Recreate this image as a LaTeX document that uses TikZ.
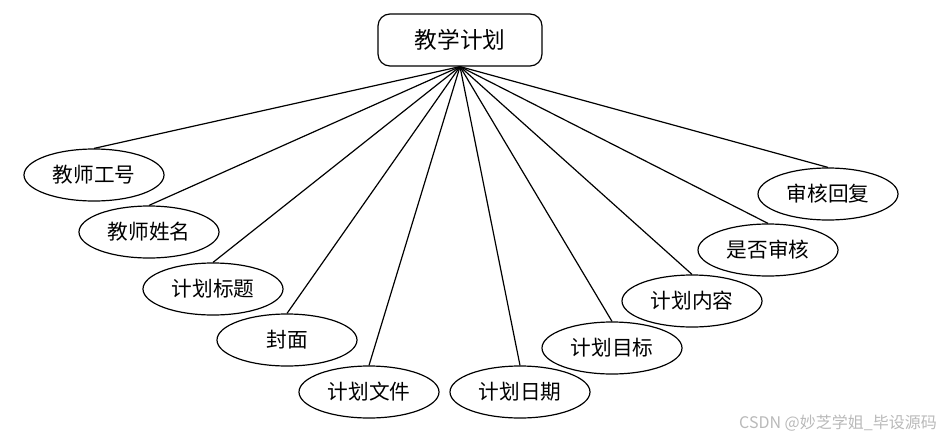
\documentclass[tikz,border=0pt]{standalone}
\usepackage{fontspec}
\newfontfamily\cjk{Noto Sans CJK SC}
\usetikzlibrary{shapes.geometric}
\tikzset{
    attr/.style={draw, ellipse, line width=.9pt, minimum width=105pt, minimum height=39pt, inner sep=0pt, font=\cjk\fontsize{15.5}{17}\selectfont},
    entity/.style={draw, rounded corners=9pt, line width=.9pt, minimum width=123pt, minimum height=39pt, inner sep=0pt, font=\cjk\fontsize{17}{19}\selectfont},
    link/.style={line width=.9pt}
}
\begin{document}
\begin{tikzpicture}[x=.75pt, y=-.75pt]
\useasboundingbox (0,0) rectangle (949,439);
\node[entity] (plan) at (460,40) {教学计划};
\foreach \name/\x/\y/\txt in {gonghao/94/175/教师工号, xingming/149/232/教师姓名,
    biaoti/213/289/计划标题, fengmian/287/340/封面, wenjian/369/392/计划文件,
    riqi/520/392/计划日期, mubiao/612/348/计划目标, neirong/692/301/计划内容,
    shenhe/768/250/是否审核, huifu/828/194/审核回复}
{
    \node[attr] (\name) at (\x,\y) {\txt};
    \draw[link] (plan.south) -- (\name.north);
}
\node[text=gray!55, font=\cjk\fontsize{12}{14}\selectfont] (mark) at (838,423) {CSDN @妙芝学姐\_毕设源码};
\end{tikzpicture}
\end{document}
